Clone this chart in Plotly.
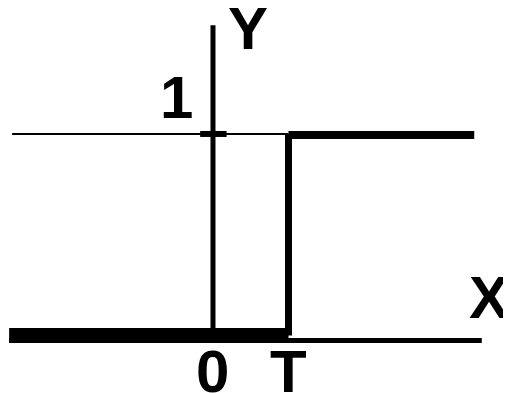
import plotly.graph_objects as go

# Step function data (unit step delayed by T)
T = 1.0
x_left = -2.70
x_right = 3.46
axis_x_end = 3.56
axis_y_end = 1.54
level = 1.0

step_bottom_x = [x_left, T]
step_bottom_y = [0, 0]
step_rise_x = [T, T]
step_rise_y = [0, level]
step_top_x = [T, x_right]
step_top_y = [level, level]

guide_x = [-2.66, T]
guide_y = [level, level]

x_tick_vals = [0, T]
x_tick_text = ["0", "T"]
y_tick_vals = [level]
y_tick_text = ["1"]

fig = go.Figure()
black = "#000000"

def seg(xs, ys, w):
    fig.add_trace(go.Scatter(x=xs, y=ys, mode="lines",
                             line=dict(color=black, width=w),
                             hoverinfo="skip", showlegend=False))

# axes
seg([x_left, axis_x_end], [-0.025, -0.025], 5)   # X axis
seg([0, 0], [0, axis_y_end], 5)                  # Y axis
# guide line at level 1
seg(guide_x, guide_y, 2)
# tick on Y axis at 1
seg([-0.17, 0.18], [level, level], 6)
# step function
seg(step_bottom_x, step_bottom_y, 15)
seg(step_rise_x, step_rise_y, 7)
seg(step_top_x, [v - 0.005 for v in step_top_y], 8)

font = dict(family="Liberation Sans, Arial, sans-serif", size=60, color=black)
ann = []
for v, t in zip(x_tick_vals, x_tick_text):
    ann.append(dict(x=v, y=-0.178, text=f"<b>{t}</b>", showarrow=False,
                    xanchor="center", yanchor="middle", font=font))
for v, t in zip(y_tick_vals, y_tick_text):
    ann.append(dict(x=-0.477, y=v + 0.179, text=f"<b>{t}</b>", showarrow=False,
                    xanchor="center", yanchor="middle", font=font))
ann.append(dict(x=0.464, y=1.521, text="<b>Y</b>", showarrow=False,
                xanchor="center", yanchor="middle", font=font))
ann.append(dict(x=3.656, y=0.189, text="<b>X</b>", showarrow=False,
                xanchor="center", yanchor="middle", font=font))

fig.update_layout(
    width=503, height=385,
    margin=dict(l=0, r=0, t=0, b=0),
    paper_bgcolor="white", plot_bgcolor="white",
    xaxis=dict(range=[-2.715, 3.947], visible=False, fixedrange=True),
    yaxis=dict(range=[-0.2854, 1.625], visible=False, fixedrange=True),
    annotations=ann,
)

fig.write_html("out.html")
